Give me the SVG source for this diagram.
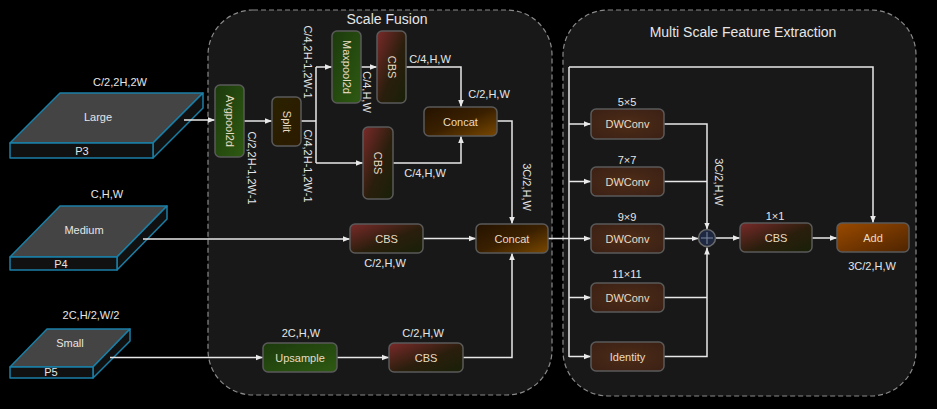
<svg xmlns="http://www.w3.org/2000/svg" width="937" height="409" viewBox="0 0 937 409">
<defs>
<linearGradient id="gGreen" x1="0" y1="0" x2="1" y2="1"><stop offset="0" stop-color="#1c3a0c"/><stop offset="1" stop-color="#2e5a12"/></linearGradient>
<linearGradient id="gCBS" x1="0" y1="0" x2="1" y2="1"><stop offset="0" stop-color="#7a2a2a"/><stop offset="0.55" stop-color="#2a1e0c"/><stop offset="1" stop-color="#182008"/></linearGradient>
<linearGradient id="gConcat" x1="0" y1="0" x2="1" y2="1"><stop offset="0" stop-color="#241200"/><stop offset="0.5" stop-color="#3a2000"/><stop offset="1" stop-color="#7a4800"/></linearGradient>
<linearGradient id="gSplit" x1="0" y1="0" x2="1" y2="1"><stop offset="0" stop-color="#2a2200"/><stop offset="1" stop-color="#2c1a00"/></linearGradient>
<radialGradient id="gDW" cx="0.5" cy="0.5" r="0.7"><stop offset="0" stop-color="#4e2c18"/><stop offset="1" stop-color="#3a2014"/></radialGradient>
<linearGradient id="gAdd" x1="0" y1="0" x2="1" y2="1"><stop offset="0" stop-color="#9a4a00"/><stop offset="1" stop-color="#4e2400"/></linearGradient>
<marker id="arr" viewBox="0 0 10 10" refX="10" refY="5" markerWidth="7" markerHeight="7" orient="auto" markerUnits="userSpaceOnUse"><path d="M0,1 L10,5 L0,9 z" fill="#e8e8e8"/></marker>
</defs>
<style>
.cont{fill:#181818;stroke:#8a8a8a;stroke-width:1.2;stroke-dasharray:5 3}
.title{font-family:"Liberation Sans",Arial,sans-serif;font-size:14px;fill:#e6e6e6;text-anchor:middle}
.node{stroke:#5a5a5a;stroke-width:1.5}
.nt{font-family:"Liberation Sans",Arial,sans-serif;font-size:11px;fill:#e8dcc4;text-anchor:middle;dominant-baseline:central}
.lb{font-family:"Liberation Sans",Arial,sans-serif;font-size:11px;fill:#e6e6e6;text-anchor:middle;dominant-baseline:central}
.ln{fill:none;stroke:#e8e8e8;stroke-width:1.5}
.top{fill:#444444;stroke:#1a7fa6;stroke-width:1.5;stroke-linejoin:round}
.side{fill:#111111;stroke:#1a7fa6;stroke-width:1.5;stroke-linejoin:round}
</style>
<rect width="937" height="409" fill="#000000"/>

<g id="scale-fusion">
<rect class="cont" x="208" y="10" width="344" height="385" rx="45"/>
<text class="title" x="387" y="24">Scale Fusion</text>
</g>
<g id="multi-scale">
<rect class="cont" x="563" y="10" width="353" height="386" rx="45"/>
<text class="title" x="743" y="37">Multi Scale Feature Extraction</text>
</g>

<g id="p3">
<polygon class="top" points="10,143 60,93 203,93 153,143"/>
<polygon class="side" points="153,143 203,93 203,108 153,158"/>
<rect class="side" x="10" y="143" width="143" height="15"/>
<text class="lb" x="98" y="117">Large</text>
<text class="lb" x="82" y="151">P3</text>
<text class="lb" x="120" y="82">C/2,2H,2W</text>
</g>
<g id="p4">
<polygon class="top" points="10,257 60,206 167,206 117,257"/>
<polygon class="side" points="117,257 167,206 167,219 117,270"/>
<rect class="side" x="10" y="257" width="107" height="13"/>
<text class="lb" x="84" y="230">Medium</text>
<text class="lb" x="61" y="264">P4</text>
<text class="lb" x="107" y="194">C,H,W</text>
</g>
<g id="p5">
<polygon class="top" points="10,367 47,329 130,329 93,367"/>
<polygon class="side" points="93,367 130,329 130,341 93,378"/>
<rect class="side" x="10" y="367" width="83" height="11"/>
<text class="lb" x="70" y="343">Small</text>
<text class="lb" x="51" y="372">P5</text>
<text class="lb" x="91" y="315">2C,H/2,W/2</text>
</g>

<g id="connectors">
<path class="ln" d="M184,120 H215" marker-end="url(#arr)"/>
<path class="ln" d="M244,121 H272" marker-end="url(#arr)"/>
<path class="ln" d="M301,121 H316"/>
<path class="ln" d="M316,67 V163"/>
<path class="ln" d="M316,67 H332" marker-end="url(#arr)"/>
<path class="ln" d="M316,163 H363" marker-end="url(#arr)"/>
<path class="ln" d="M361,67 H377" stroke="#bbbbbb" marker-end="url(#arr)"/>
<path class="ln" d="M406,67 H461 V107" marker-end="url(#arr)"/>
<path class="ln" d="M393,163 H461 V136" marker-end="url(#arr)"/>
<path class="ln" d="M497,121 H512 V224" marker-end="url(#arr)"/>
<path class="ln" d="M143,239 H350" marker-end="url(#arr)"/>
<path class="ln" d="M423,238.5 H476" marker-end="url(#arr)"/>
<path class="ln" d="M110,357.5 H263" marker-end="url(#arr)"/>
<path class="ln" d="M337,357.5 H389" marker-end="url(#arr)"/>
<path class="ln" d="M463,357.5 H512 V253" marker-end="url(#arr)"/>
<path class="ln" d="M548,238.5 H591" marker-end="url(#arr)"/>
<path class="ln" d="M569,67 V357"/>
<path class="ln" d="M569,67 H873 V223" marker-end="url(#arr)"/>
<path class="ln" d="M569,124 H591" marker-end="url(#arr)"/>
<path class="ln" d="M569,181.5 H591" marker-end="url(#arr)"/>
<path class="ln" d="M569,297.5 H591" marker-end="url(#arr)"/>
<path class="ln" d="M569,356.5 H591" marker-end="url(#arr)"/>
<path class="ln" d="M664,124 H707 V229.5" marker-end="url(#arr)"/>
<path class="ln" d="M664,181.5 H707"/>
<path class="ln" d="M664,238.5 H698.5" marker-end="url(#arr)"/>
<path class="ln" d="M664,297.5 H707"/>
<path class="ln" d="M664,356.5 H707 V247.5" marker-end="url(#arr)"/>
<path class="ln" d="M715.5,238 H740" marker-end="url(#arr)"/>
<path class="ln" d="M812,238 H837" marker-end="url(#arr)"/>
</g>

<g id="labels">
<text class="lb" transform="translate(308,62) rotate(90)">C/4,2H-1,2W-1</text>
<text class="lb" transform="translate(308,166) rotate(90)">C/4,2H-1,2W-1</text>
<text class="lb" transform="translate(252,168) rotate(90)">C/2,2H-1,2W-1</text>
<text class="lb" transform="translate(367,92) rotate(90)">C/4,H,W</text>
<text class="lb" x="430" y="59">C/4,H,W</text>
<text class="lb" x="489" y="94">C/2,H,W</text>
<text class="lb" x="425" y="173">C/4,H,W</text>
<text class="lb" transform="translate(527,187) rotate(90)">3C/2,H,W</text>
<text class="lb" x="385" y="263">C/2,H,W</text>
<text class="lb" x="301" y="333">2C,H,W</text>
<text class="lb" x="423" y="333">C/2,H,W</text>
<text class="lb" x="627" y="102">5×5</text>
<text class="lb" x="627" y="160">7×7</text>
<text class="lb" x="627" y="217">9×9</text>
<text class="lb" x="627" y="274">11×11</text>
<text class="lb" transform="translate(719,182) rotate(90)">3C/2,H,W</text>
<text class="lb" x="775" y="216">1×1</text>
<text class="lb" x="872" y="266">3C/2,H,W</text>
</g>

<g id="avgpool2d"><rect class="node" x="215" y="85" width="29" height="72" rx="5" fill="url(#gGreen)"/><text class="nt" transform="translate(229.5,121) rotate(90)">Avgpool2d</text></g>
<g id="split"><rect class="node" x="272" y="97" width="29" height="49" rx="5" fill="url(#gSplit)"/><text class="nt" transform="translate(286.5,121.5) rotate(90)">Split</text></g>
<g id="maxpool2d"><rect class="node" x="332" y="31" width="29" height="72" rx="5" fill="url(#gGreen)"/><text class="nt" transform="translate(346.5,67) rotate(90)">Maxpool2d</text></g>
<g id="cbs-top"><rect class="node" x="377" y="31" width="29" height="72" rx="5" fill="url(#gCBS)"/><text class="nt" transform="translate(391.5,67) rotate(90)">CBS</text></g>
<g id="cbs-mid"><rect class="node" x="363" y="127" width="30" height="72" rx="5" fill="url(#gCBS)"/><text class="nt" transform="translate(378,163) rotate(90)">CBS</text></g>
<g id="concat-top"><rect class="node" x="424" y="107" width="73" height="29" rx="5" fill="url(#gConcat)"/><text class="nt" x="460.5" y="121.5">Concat</text></g>
<g id="cbs-medium"><rect class="node" x="350" y="224" width="73" height="29" rx="5" fill="url(#gCBS)"/><text class="nt" x="386.5" y="238.5">CBS</text></g>
<g id="concat-main"><rect class="node" x="476" y="224" width="72" height="29" rx="5" fill="url(#gConcat)"/><text class="nt" x="512" y="238.5">Concat</text></g>
<g id="upsample"><rect class="node" x="263" y="343" width="74" height="29" rx="5" fill="url(#gGreen)"/><text class="nt" x="300" y="357.5">Upsample</text></g>
<g id="cbs-bottom"><rect class="node" x="389" y="343" width="74" height="29" rx="5" fill="url(#gCBS)"/><text class="nt" x="426" y="357.5">CBS</text></g>

<g id="dwconv5"><rect class="node" x="591" y="109" width="73" height="30" rx="5" fill="url(#gDW)"/><text class="nt" x="627.5" y="124">DWConv</text></g>
<g id="dwconv7"><rect class="node" x="591" y="167" width="73" height="29" rx="5" fill="url(#gDW)"/><text class="nt" x="627.5" y="181.5">DWConv</text></g>
<g id="dwconv9"><rect class="node" x="591" y="224" width="73" height="29" rx="5" fill="url(#gDW)"/><text class="nt" x="627.5" y="238.5">DWConv</text></g>
<g id="dwconv11"><rect class="node" x="591" y="283" width="73" height="29" rx="5" fill="url(#gDW)"/><text class="nt" x="627.5" y="297.5">DWConv</text></g>
<g id="identity"><rect class="node" x="591" y="342" width="73" height="29" rx="5" fill="url(#gDW)"/><text class="nt" x="627.5" y="356.5">Identity</text></g>
<g id="sum"><circle cx="707" cy="238" r="8.5" fill="#1e2840" stroke="#6a6a6a" stroke-width="1.5"/><path d="M701,238 H713 M707,232 V244" stroke="#7a8aa0" stroke-width="1"/></g>
<g id="cbs-1x1"><rect class="node" x="740" y="223" width="72" height="29" rx="5" fill="url(#gCBS)"/><text class="nt" x="776" y="237.5">CBS</text></g>
<g id="add"><rect class="node" x="837" y="223" width="72" height="29" rx="5" fill="url(#gAdd)"/><text class="nt" x="873" y="237.5">Add</text></g>
</svg>
